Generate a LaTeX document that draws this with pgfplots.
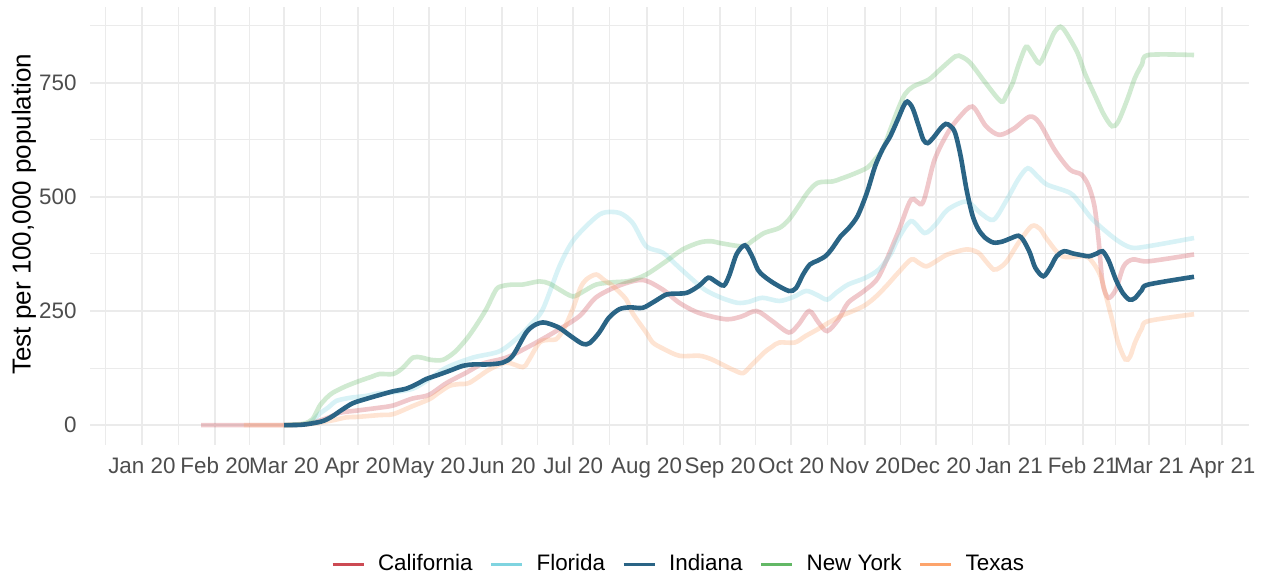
\documentclass[border=0pt]{standalone}
\usepackage{pgfplots}
\pgfplotsset{compat=1.18}
\usepackage{fontspec}
\setmainfont{Liberation Sans}
\definecolor{cCA}{HTML}{CC4A53}
\definecolor{cFL}{HTML}{7FD4E0}
\definecolor{cIN}{HTML}{2A6485}
\definecolor{cNY}{HTML}{63B866}
\definecolor{cTX}{HTML}{FDA46C}
\definecolor{gridc}{HTML}{EBEBEB}
\definecolor{tickc}{HTML}{4D4D4D}
\begin{document}
\begin{tikzpicture}
\begin{axis}[
  name=ax,
  scale only axis,
  width=579.5bp, height=218.85bp,
  xmin=-21.9, xmax=467.2, ymin=-43.6, ymax=915.6,
  axis line style={draw=none},
  major tick length=0pt, minor tick length=0pt,
  xtick={0,31,60,91,121,152,182,213,244,274,305,335,366,397,425,456},
  xticklabels={Jan 20,Feb 20,Mar 20,Apr 20,May 20,Jun 20,Jul 20,Aug 20,Sep 20,Oct 20,Nov 20,Dec 20,Jan 21,Feb 21,Mar 21,Apr 21},
  minor xtick={-15.5,15.5,45.5,75.5,106,136.5,167,197.5,228.5,259,289.5,320,350.5,381.5,411,440.5},
  ytick={0,250,500,750},
  minor ytick={125,375,625,875},
  xmajorgrids, ymajorgrids, xminorgrids, yminorgrids,
  major grid style={draw=gridc, line width=1bp},
  minor grid style={draw=gridc, line width=0.5bp},
  /pgf/number format/assume math mode=true,
  xticklabel style={font=\fontsize{11.2bp}{13bp}\selectfont, text=tickc, anchor=north, inner sep=0pt, yshift=-6bp},
  yticklabel style={font=\fontsize{11.2bp}{13bp}\selectfont, text=tickc, anchor=east, inner sep=0pt, xshift=-6.5bp},
  legend columns=5,
  legend image code/.code={\draw[#1] (0bp,0bp) -- (15.5bp,0bp);},
  legend style={draw=none, fill=none, inner sep=0pt, outer sep=0pt,
    at={(0,0)}, anchor=west, xshift=120.5bp, yshift=-59.5bp,
    font=\fontsize{11.2bp}{13bp}\selectfont,
    nodes={inner sep=0pt},
    /tikz/every odd column/.append style={column sep=6.5bp},
    /tikz/every even column/.append style={column sep=8.5bp}},
]
% California
\addplot[cCA, opacity=0.3, line width=2.3bp, smooth, forget plot] coordinates {
(25,0)(60,0)(70,3)(78,15)(83.5,27)(91,32)(100,38)(106,43)(114,58)(121,66)(128.5,92)(136.9,115)(144,135)(153.8,148)(163.6,173)(174.8,206)(184.7,239)(191.7,280)(201.5,306)(211.3,318)(219.8,297)(226.8,268)(235,246)(246.4,232)(253,238)(259.4,250)(266,228)(273,203)(277,220)(281.6,250)(285.5,225)(289.2,206)(294,232)(298,268)(305,295)(311,326)(319,421)(324.6,494)(329.5,487)(334.4,580)(340,640)(345,675)(350.5,698)(356.2,655)(361.8,636)(368,650)(374.7,676)(378.8,662)(385.2,603)(391.6,560)(396.5,549)(399.6,523)(402,479)(403.7,407)(405.4,312)(407.8,279)(411,297)(414.3,348)(418.2,363)(424.7,359)(444,374)
};
% Florida
\addplot[cFL, opacity=0.3, line width=2.3bp, smooth, forget plot] coordinates {
(60,0)(70,3)(75,25)(79,40)(82,53)(88,60)(94.7,64)(100,70)(106,72)(114.4,80)(121,100)(128.5,126)(139.7,148)(151,162)(159.4,195)(164,220)(169.2,254)(176.2,348)(181.8,403)(188.9,443)(194.5,465)(201.5,465)(207.1,443)(212.8,392)(219.8,378)(226.8,345)(233.9,312)(238.4,294)(245,278)(251.3,268)(256,270)(261.8,279)(269,272)(275,281)(280.3,294)(285,285)(289.2,275)(293,290)(298,308)(305,322)(311,341)(316,375)(319,407)(324.6,447)(330.3,421)(335,440)(340,472)(348,490)(353.8,465)(359.4,450)(365,494)(370,540)(373.9,563)(378,545)(382,527)(391.6,509)(396,485)(401.3,450)(411,407)(417.5,389)(424.7,392)(444,410)
};
% New York
\addplot[cNY, opacity=0.3, line width=2.3bp, smooth, forget plot] coordinates {
(60,0)(68,3)(72,13)(75,42)(78,60)(80.6,71)(86,85)(91.9,97)(97,106)(100.3,112)(106,112)(110,125)(114.4,148)(118,148)(122,143)(127,143)(132,160)(136.9,188)(141,218)(145.3,254)(149.5,297)(152.3,305)(156.5,308)(160.7,308)(167.8,315)(172,310)(176.2,297)(181.8,282)(186,292)(191.7,308)(198.7,313)(205.7,316)(212.8,330)(221.2,359)(228.2,385)(235.2,400)(240,403)(245,398)(253.7,392)(258,405)(262.6,421)(269,432)(273,450)(277.1,480)(281,510)(285.2,531)(291.6,534)(295,540)(299.7,549)(306.1,564)(309,580)(312.6,604)(316,650)(319,691)(322,725)(325.5,742)(332,757)(337,780)(343.3,808)(346,807)(349.7,793)(356,750)(362.6,709)(365,725)(367.5,750)(370,790)(373.1,829)(375.5,815)(378.8,793)(382,825)(385,860)(387.6,873)(390,860)(394.9,815)(398,770)(403,713)(406,680)(409.4,655)(412,665)(415.8,713)(419,760)(422,790)(424.7,811)(444,811)
};
% Texas
\addplot[cTX, opacity=0.3, line width=2.3bp, smooth, forget plot] coordinates {
(43,0)(60,0)(70,2)(80,10)(86.3,17)(91,18)(100.3,22)(106,24)(114.4,42)(121.4,57)(125,70)(129.8,86)(134,90)(138.3,93)(146.7,122)(153.8,137)(160.7,127)(163,140)(167.8,181)(172,187)(174.8,188)(178,210)(181.8,254)(185,300)(187.5,319)(191.7,330)(195,318)(198.7,305)(204.3,276)(207.1,245)(212.8,203)(215.6,181)(219.8,168)(226.8,152)(235.2,152)(240,145)(244.8,133)(250,120)(253.7,114)(257,130)(262.6,159)(266,172)(269,181)(275.5,181)(280,195)(285.2,210)(290,225)(294.9,239)(300,250)(304.6,261)(309,278)(314.2,305)(319,333)(324.7,363)(328,355)(331.2,348)(336,362)(340,374)(348,385)(352.9,378)(356,360)(359.4,341)(362,345)(365,359)(370,400)(375.5,436)(379,430)(382,407)(388.4,370)(398.1,370)(401.5,355)(404.6,326)(407,280)(409.4,232)(412,180)(415,144)(417,150)(419.1,181)(422,212)(424.7,228)(444,243)
};
% Indiana
\addplot[cIN, line width=2.3bp, smooth, forget plot] coordinates {
(60,0)(68,1)(75.8,8)(80,18)(84,32)(89,48)(95,58)(100.3,66)(106,74)(111.6,80)(116,90)(120,101)(125,110)(129.8,119)(135.5,130)(140,133)(146,133)(152.3,137)(156.5,152)(162.2,203)(166,220)(169.2,225)(172,222)(176.2,213)(181,195)(186,178)(189,180)(193,203)(197,235)(201.5,254)(206,258)(211.3,257)(216,270)(221.2,286)(225,288)(230,290)(235,305)(239,323)(242,315)(245.6,306)(248,330)(251,375)(254.5,394)(257.5,370)(260,340)(262.6,326)(267,310)(273,294)(276,300)(279,330)(281.9,352)(285,360)(288.4,370)(291,385)(294.9,414)(298,430)(302,458)(306,510)(309.4,567)(312.6,605)(315.8,633)(319,670)(321.5,700)(323,709)(325.2,695)(327.9,654)(329.8,625)(331.6,618)(334,630)(337,650)(339.2,660)(341.3,655)(343.2,640)(345.5,590)(348,516)(350.5,460)(353,429)(356,410)(359.4,400)(363,402)(366,408)(369.9,415)(372,405)(374.7,378)(377,345)(380.4,326)(383.3,345)(386,370)(389.2,381)(393,376)(397,372)(399.7,370)(403,376)(405.4,381)(408,360)(411,319)(414,289)(416.7,275)(419,278)(422,296)(424.7,308)(444,325)
};
\addlegendimage{cCA, line width=1.5bp}
\addlegendentry{California}
\addlegendimage{cFL, line width=1.5bp}
\addlegendentry{Florida}
\addlegendimage{cIN, line width=1.5bp}
\addlegendentry{Indiana}
\addlegendimage{cNY, line width=1.5bp}
\addlegendentry{New York}
\addlegendimage{cTX, line width=1.5bp}
\addlegendentry{Texas}
\end{axis}
\node[rotate=90, font=\fontsize{13bp}{16bp}\selectfont, inner sep=0pt] at ([xshift=-33bp, yshift=6bp]ax.west) {Test per 100,000 population};
\pgfresetboundingbox
\path[use as bounding box] ([shift={(-45bp,-65.5bp)}]ax.south west) rectangle ([shift={(8.5bp,3.65bp)}]ax.north east);
\end{tikzpicture}
\end{document}
